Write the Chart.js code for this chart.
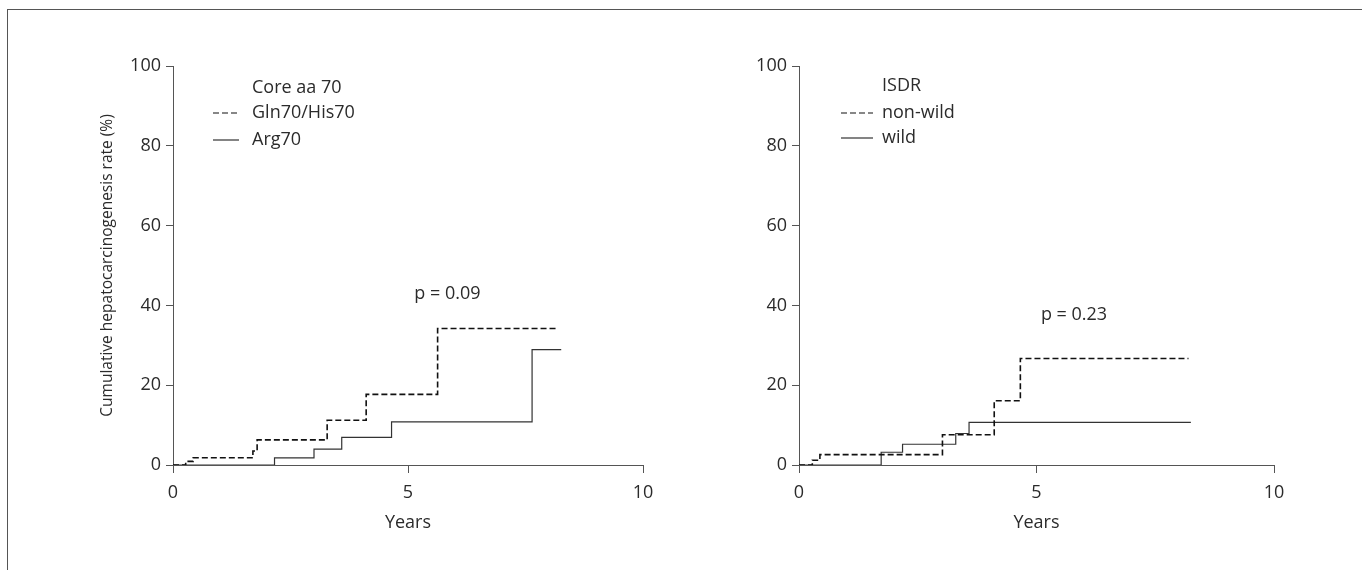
<!DOCTYPE html>
<html>
<head>
<meta charset="utf-8">
<script src="https://cdn.jsdelivr.net/npm/chart.js@4.4.1/dist/chart.umd.min.js"></script>
<style>
  html, body { margin: 0; padding: 0; background: #fff; }
  #page { position: relative; width: 1362px; height: 570px; overflow: hidden; }
  #frame { position: absolute; left: 7px; top: 9px; width: 1400px; height: 600px;
           border-top: 1px solid #555; border-left: 1px solid #555; }
  canvas { position: absolute; top: 0; }
  #coreChart { left: 0; }
  #isdrChart { left: 680px; }
</style>
</head>
<body>
<div id="page">
  <div id="frame"></div>
  <canvas id="coreChart" width="680" height="570"></canvas>
  <canvas id="isdrChart" width="682" height="570"></canvas>
</div>
<script>
// Left panel: Core aa 70
const coreTitle = 'Core aa 70';
const glnLabel = 'Gln70/His70';
const glnYears = [0, 0.27, 0.43, 1.70, 1.79, 3.28, 4.11, 5.63, 8.20];
const glnRate  = [0, 0.9, 1.8, 3.5, 6.3, 11.2, 17.7, 34.2, 34.2];
const argLabel = 'Arg70';
const argYears = [0, 2.16, 3.00, 3.59, 4.65, 7.64, 8.26];
const argRate  = [0, 1.8, 4.0, 6.9, 10.8, 28.9, 28.9];
const coreP = 'p = 0.09';

// Right panel: ISDR
const isdrTitle = 'ISDR';
const nonWildLabel = 'non-wild';
const nonWildYears = [0, 0.28, 0.44, 3.02, 4.11, 4.66, 8.20];
const nonWildRate  = [0, 1.2, 2.6, 7.6, 16.1, 26.7, 26.7];
const wildLabel = 'wild';
const wildYears = [0, 1.73, 2.18, 3.30, 3.58, 8.25];
const wildRate  = [0, 3.2, 5.2, 7.9, 10.7, 10.7];
const isdrP = 'p = 0.23';

const xTicks = [0, 5, 10];
const yTicks = [0, 20, 40, 60, 80, 100];
const xTitle = 'Years';
const yTitle = 'Cumulative hepatocarcinogenesis rate (%)';

const FONT_FAMILY = '"Open Sans", "Noto Sans", sans-serif';
const FONT_SIZE = 18;
const TEXT = '#2b2b2b';
const AXIS = '#555';

function points(xs, ys) {
  return xs.map((x, i) => ({ x, y: ys[i] }));
}

// legend block + p value, drawn after the datasets
const kmLabels = {
  id: 'kmLabels',
  afterDraw(chart, args, opts) {
    const { ctx, chartArea, scales } = chart;
    const lx = chartArea.left;
    ctx.save();
    ctx.font = `${FONT_SIZE}px ${FONT_FAMILY}`;
    ctx.fillStyle = TEXT;
    ctx.textBaseline = 'middle';
    ctx.textAlign = 'left';
    ctx.fillText(opts.title, lx + opts.textX, chartArea.top + opts.rowY[0]);
    chart.data.datasets.forEach((ds, i) => {
      const y = chartArea.top + opts.rowY[i + 1];
      ctx.strokeStyle = ds.borderColor;
      ctx.lineWidth = 1.2;
      ctx.setLineDash(ds.borderDash || []);
      ctx.beginPath();
      ctx.moveTo(lx + opts.lineX[0], y);
      ctx.lineTo(lx + opts.lineX[1], y);
      ctx.stroke();
      ctx.fillText(ds.label, lx + opts.textX, y);
    });
    ctx.setLineDash([]);
    ctx.textAlign = 'center';
    ctx.fillText(opts.pText, scales.x.getPixelForValue(opts.pAt[0]), scales.y.getPixelForValue(opts.pAt[1]));
    ctx.restore();
  }
};

function makeChart(id, cfg) {
  const ctx = document.getElementById(id).getContext('2d');
  return new Chart(ctx, {
    type: 'line',
    data: {
      datasets: [
        { label: cfg.dashLabel, data: points(cfg.dashX, cfg.dashY), borderColor: '#111',
          borderWidth: 1.6, borderDash: [6, 3], stepped: 'before', pointRadius: 0, fill: false },
        { label: cfg.solidLabel, data: points(cfg.solidX, cfg.solidY), borderColor: '#333',
          borderWidth: 1.2, stepped: 'before', pointRadius: 0, fill: false }
      ]
    },
    plugins: [kmLabels],
    options: {
      responsive: false,
      devicePixelRatio: 1,
      animation: false,
      events: [],
      layout: { padding: { top: 66, right: cfg.padRight, left: 0, bottom: 0 } },
      plugins: {
        legend: { display: false },
        tooltip: { enabled: false },
        kmLabels: cfg.labels
      },
      scales: {
        x: {
          type: 'linear', min: 0, max: 10,
          afterBuildTicks: s => { s.ticks = xTicks.map(v => ({ value: v })); },
          afterFit: s => { s.height = 105; },
          grid: { drawOnChartArea: false, drawTicks: true, tickLength: 8, color: AXIS },
          border: { display: true, color: AXIS, width: 1 },
          ticks: { color: TEXT, padding: 9, font: { family: FONT_FAMILY, size: FONT_SIZE } },
          title: { display: true, text: xTitle, color: TEXT, padding: { top: 0, bottom: 36 },
                   font: { family: FONT_FAMILY, size: FONT_SIZE } }
        },
        y: {
          type: 'linear', min: 0, max: 100,
          afterBuildTicks: s => { s.ticks = yTicks.map(v => ({ value: v })); },
          afterFit: s => { s.width = cfg.yWidth; },
          grid: { drawOnChartArea: false, drawTicks: true, tickLength: 7, color: AXIS },
          border: { display: true, color: AXIS, width: 1 },
          ticks: { color: TEXT, padding: 5, font: { family: FONT_FAMILY, size: FONT_SIZE } },
          title: { display: cfg.showYTitle, text: yTitle, color: TEXT, padding: { top: 98, bottom: 0 },
                   font: { family: FONT_FAMILY, size: 15.5 } }
        }
      }
    }
  });
}

makeChart('coreChart', {
  dashLabel: glnLabel, dashX: glnYears, dashY: glnRate,
  solidLabel: argLabel, solidX: argYears, solidY: argRate,
  padRight: 37, yWidth: 173, showYTitle: true,
  labels: { title: coreTitle, textX: 79, lineX: [40, 66], rowY: [22, 47, 74], pText: coreP, pAt: [5.84, 43.0] }
});

makeChart('isdrChart', {
  dashLabel: nonWildLabel, dashX: nonWildYears, dashY: nonWildRate,
  solidLabel: wildLabel, solidX: wildYears, solidY: wildRate,
  padRight: 88, yWidth: 119, showYTitle: false,
  labels: { title: isdrTitle, textX: 83, lineX: [42, 74], rowY: [20, 47, 72], pText: isdrP, pAt: [5.79, 37.6] }
});
</script>
</body>
</html>
